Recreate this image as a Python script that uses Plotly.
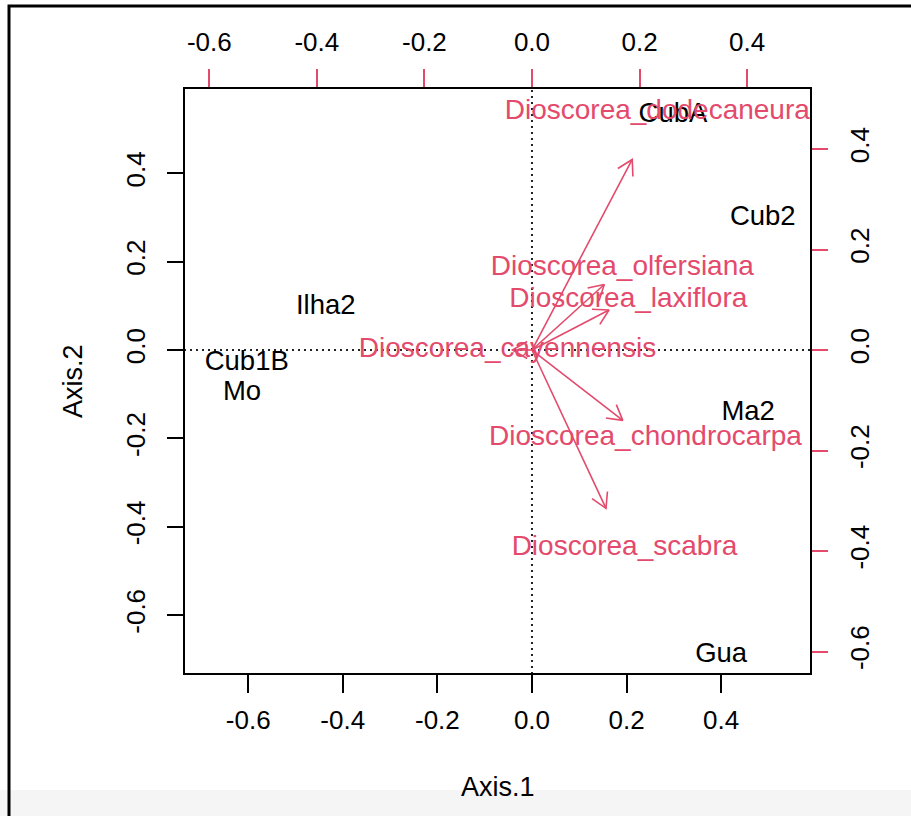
import math
import plotly.graph_objects as go

# Site scores (Axis.1, Axis.2) – black labels, bottom/left axes
sites = ["CubA", "Cub2", "Ilha2", "Cub1B", "Mo", "Ma2", "Gua"]
site_x = [0.298, 0.488, -0.436, -0.603, -0.613, 0.457, 0.400]
site_y = [0.532, 0.299, 0.097, -0.029, -0.097, -0.143, -0.690]

# Species vectors – red labels and arrows, top/right axes
species = ["Dioscorea_dodecaneura", "Dioscorea_olfersiana", "Dioscorea_laxiflora",
           "Dioscorea_cayennensis", "Dioscorea_chondrocarpa", "Dioscorea_scabra"]
sp_x = [0.233, 0.168, 0.179, -0.0455, 0.211, 0.172]
sp_y = [0.474, 0.163, 0.0995, 0.0, -0.175, -0.394]

tick_vals = [-0.6, -0.4, -0.2, 0.0, 0.2, 0.4]
tick_text = ["-0.6", "-0.4", "-0.2", "0.0", "0.2", "0.4"]

RED = "#E34A6C"
FONT = "Liberation Sans, Arial, sans-serif"

W, H = 911, 816
ML, MR, MT, MB = 184, 100, 88, 142
PW, PH = W - ML - MR, H - MT - MB

# shared limits for primary axes; secondary axes are scaled by the biplot ratio
lim = [-0.7357, 0.5899]
ylim = [-0.733, 0.5928]
ratio = 0.8795
lim2 = [v * ratio for v in lim]
ylim2 = [v * ratio for v in ylim]


def to_px(x, y):
    px = (x - lim2[0]) / (lim2[1] - lim2[0]) * PW
    py = (y - ylim2[0]) / (ylim2[1] - ylim2[0]) * PH
    return px, py


def to_data(px, py):
    x = lim2[0] + px / PW * (lim2[1] - lim2[0])
    y = ylim2[0] + py / PH * (ylim2[1] - ylim2[0])
    return x, y


# arrows drawn to 0.8 of the species scores, open V heads
arrow_x, arrow_y = [], []
head_len, head_ang = 17, math.radians(30)
for x, y in zip(sp_x, sp_y):
    tx, ty = 0.8 * x, 0.8 * y
    arrow_x += [0, tx, None]
    arrow_y += [0, ty, None]
    ox, oy = to_px(0, 0)
    px, py = to_px(tx, ty)
    ang = math.atan2(py - oy, px - ox)
    arms = []
    for s in (1, -1):
        a = ang + math.pi + s * head_ang
        arms.append(to_data(px + head_len * math.cos(a), py + head_len * math.sin(a)))
    arrow_x += [arms[0][0], tx, arms[1][0], None]
    arrow_y += [arms[0][1], ty, arms[1][1], None]

fig = go.Figure()

# dotted reference lines through the origin
fig.add_trace(go.Scatter(x=[lim[0], lim[1]], y=[0, 0], mode="lines",
                         line=dict(color="#222", width=2, dash="2px,4px"),
                         hoverinfo="skip", showlegend=False))
fig.add_trace(go.Scatter(x=[0, 0], y=[ylim[0], ylim[1]], mode="lines",
                         line=dict(color="#222", width=2, dash="2px,4px"),
                         hoverinfo="skip", showlegend=False))

fig.add_trace(go.Scatter(x=site_x, y=site_y, mode="text", text=sites,
                         textfont=dict(family=FONT, size=27.5, color="black"),
                         showlegend=False))

fig.add_trace(go.Scatter(x=arrow_x, y=arrow_y, mode="lines", xaxis="x2", yaxis="y2",
                         line=dict(color=RED, width=1.6), showlegend=False,
                         hoverinfo="skip"))
fig.add_trace(go.Scatter(x=sp_x, y=sp_y, mode="text", text=species, xaxis="x2", yaxis="y2",
                         textfont=dict(family=FONT, size=28, color=RED),
                         showlegend=False))

axis_common = dict(showgrid=False, zeroline=False, showline=False, ticks="outside",
                   tickwidth=1.5, tickvals=tick_vals, ticktext=tick_text,
                   tickfont=dict(family=FONT, size=26, color="black"))

fig.update_layout(
    width=W, height=H,
    margin=dict(l=ML, r=MR, t=MT, b=MB),
    paper_bgcolor="white", plot_bgcolor="white",
    xaxis=dict(range=lim, side="bottom", ticklen=18, tickcolor="black",
               ticklabelstandoff=5, **axis_common),
    yaxis=dict(range=ylim, side="left", ticklen=16, tickcolor="black", tickangle=-90,
               ticklabelstandoff=12, **axis_common),
    xaxis2=dict(range=lim2, overlaying="x", side="top", ticklen=18, tickcolor=RED,
                ticklabelstandoff=8, **axis_common),
    yaxis2=dict(range=ylim2, overlaying="y", side="right", ticklen=16, tickcolor=RED,
                tickangle=-90, ticklabelstandoff=10, **axis_common),
    shapes=[
        dict(type="rect", xref="paper", yref="paper", x0=0, x1=1, y0=0, y1=1,
             line=dict(color="black", width=2)),
        # outer frame of the figure
        dict(type="rect", xref="paper", yref="paper",
             x0=(9 - ML) / PW, x1=(930 - ML) / PW,
             y0=(H - MB - 830) / PH, y1=(H - MB - 6) / PH,
             line=dict(color="black", width=3)),
        dict(type="rect", xref="paper", yref="paper",
             x0=(0 - ML) / PW, x1=(W - ML) / PW,
             y0=(H - MB - 816) / PH, y1=(H - MB - 790) / PH,
             fillcolor="rgba(0,0,0,0.04)", line=dict(width=0), layer="above"),
    ],
    annotations=[
        dict(text="Axis.1", xref="paper", yref="paper", x=0.5, y=(H - MB - 787) / PH,
             showarrow=False, font=dict(family=FONT, size=27, color="black"),
             xanchor="center", yanchor="middle"),
        dict(text="Axis.2", xref="paper", yref="paper", x=(73 - ML) / PW, y=0.5,
             showarrow=False, textangle=-90, font=dict(family=FONT, size=27, color="black"),
             xanchor="center", yanchor="middle"),
    ],
)

fig.write_html("out.html")
